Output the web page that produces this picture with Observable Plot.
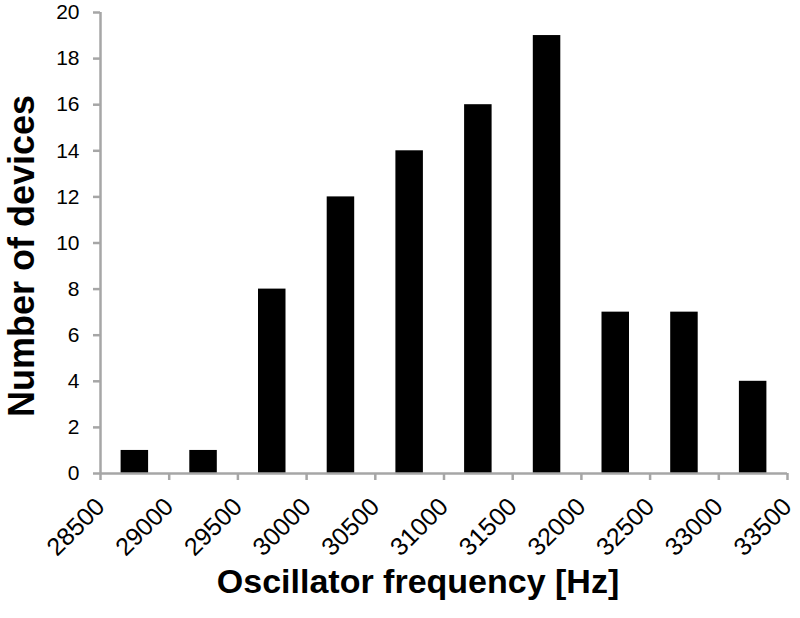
<!DOCTYPE html>
<html>
<head>
<meta charset="utf-8">
<script src="https://cdn.jsdelivr.net/npm/d3@7"></script>
<script src="https://cdn.jsdelivr.net/npm/@observablehq/plot@0.6"></script>
<style>
  html, body { margin: 0; padding: 0; background: #fff; }
</style>
</head>
<body>
<div id="chart"></div>
<script>
const binStart = [28500, 29000, 29500, 30000, 30500, 31000, 31500, 32000, 32500, 33000];
const binWidth = 500;
const counts = [1, 1, 8, 12, 14, 16, 19, 7, 7, 4];
const xTicks = [28500, 29000, 29500, 30000, 30500, 31000, 31500, 32000, 32500, 33000, 33500];
const yTicks = [0, 2, 4, 6, 8, 10, 12, 14, 16, 18, 20];
const xTitle = "Oscillator frequency [Hz]";
const yTitle = "Number of devices";

const data = binStart.map((s, i) => ({x1: s, x2: s + binWidth, y: counts[i]}));
const axisColor = "#a6a6a6";

const chart = Plot.plot({
  width: 800,
  height: 618,
  marginLeft: 100,
  marginRight: 13,
  marginTop: 12,
  marginBottom: 145,
  style: {fontFamily: "'Liberation Sans', Arial, sans-serif"},
  x: {domain: [28500, 33500]},
  y: {domain: [0, 20]},
  marks: [
    Plot.rectY(data, {x1: "x1", x2: "x2", y: "y", fill: "#000", insetLeft: 20.6, insetRight: 20.6}),
    Plot.ruleY([0], {stroke: axisColor, strokeWidth: 2.5}),
    Plot.ruleX([28500], {stroke: axisColor, strokeWidth: 2.5}),
    Plot.axisX({ticks: xTicks, tickFormat: () => "", tickSize: 7, stroke: axisColor, strokeWidth: 2.5, label: null}),
    Plot.axisY({ticks: yTicks, tickFormat: () => "", tickSize: 7, stroke: axisColor, strokeWidth: 2.5, label: null}),
    Plot.axisX({ticks: xTicks, tickFormat: d => String(d), tickSize: 0, tickPadding: 29, tickRotate: -45, fontSize: 25, label: null}),
    Plot.axisY({ticks: yTicks, tickFormat: d => String(d), tickSize: 0, tickPadding: 21, fontSize: 21, label: null}),
    Plot.text([yTitle], {frameAnchor: "left", textAnchor: "middle", rotate: -90, dx: -78, dy: 13, fontSize: 36, fontWeight: "bold", fill: "#000"}),
    Plot.text([xTitle], {frameAnchor: "bottom", textAnchor: "middle", dy: 119, dx: -26, fontSize: 34, fontWeight: "bold", fill: "#000"})
  ]
});
document.getElementById("chart").appendChild(chart);

// enforce tick label sizes
function forceSize(selector, px) {
  chart.querySelectorAll(selector).forEach(g => {
    g.style.setProperty("font-size", px + "px", "important");
    g.querySelectorAll("text").forEach(t => {
      t.setAttribute("font-size", px);
      t.style.setProperty("font-size", px + "px", "important");
      t.style.setProperty("fill", "#000", "important");
    });
  });
}
forceSize('g[aria-label="x-axis tick label"]', 25);
forceSize('g[aria-label="y-axis tick label"]', 21);
</script>
</body>
</html>
